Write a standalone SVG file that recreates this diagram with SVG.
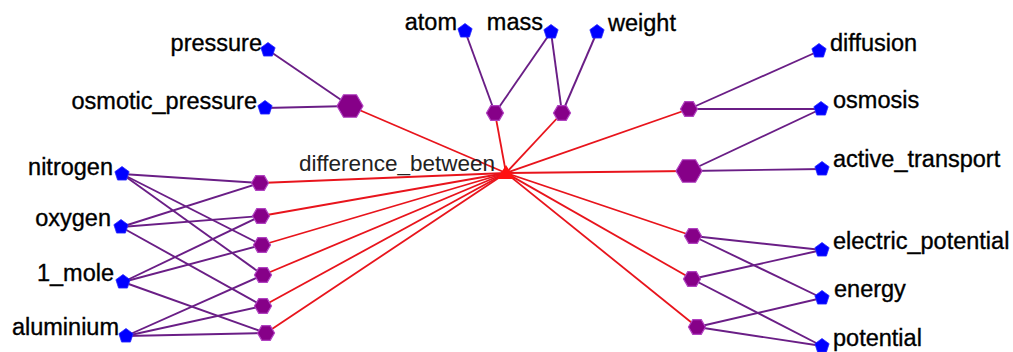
<svg xmlns="http://www.w3.org/2000/svg" xmlns:xlink="http://www.w3.org/1999/xlink" width="1013" height="352" viewBox="0 0 1013 352">
<style>
.pe{stroke:#6a1e86;stroke-width:1.9;fill:none}
.re{stroke:#e8141c;stroke-width:1.8;fill:none}
.bn{fill:#0000ff;stroke:#2a2aff;stroke-width:0.8}
.hx{fill:#860088;stroke:#b040c0;stroke-width:1.2}
.lb{font-family:"Liberation Sans",Arial,sans-serif;font-size:23.5px;fill:#000;stroke:#000;stroke-width:0.35}
.hub{font-family:"Liberation Sans",Arial,sans-serif;font-size:22.5px;fill:#222}
</style>
<defs>
<polygon id="pent" points="0,-7.5 7.13,-2.32 4.41,6.07 -4.41,6.07 -7.13,-2.32"/>
<polygon id="hs" points="8.5,0 4.25,7.36 -4.25,7.36 -8.5,0 -4.25,-7.36 4.25,-7.36"/>
<polygon id="hl" points="13,0 6.5,11.26 -6.5,11.26 -13,0 -6.5,-11.26 6.5,-11.26"/>
</defs>
<rect width="1013" height="352" fill="#ffffff"/>
<g id="connectors">
<line class="re" x1="506" y1="173" x2="350" y2="106"/>
<line class="re" x1="506" y1="173" x2="260" y2="183"/>
<line class="re" x1="506" y1="173" x2="261" y2="216"/>
<line class="re" x1="506" y1="173" x2="262" y2="245"/>
<line class="re" x1="506" y1="173" x2="263" y2="275"/>
<line class="re" x1="506" y1="173" x2="263" y2="306"/>
<line class="re" x1="506" y1="173" x2="266" y2="333"/>
<line class="re" x1="506" y1="173" x2="495" y2="113"/>
<line class="re" x1="506" y1="173" x2="562" y2="113"/>
<line class="re" x1="506" y1="173" x2="689" y2="109"/>
<line class="re" x1="506" y1="173" x2="689" y2="171"/>
<line class="re" x1="506" y1="173" x2="693" y2="236"/>
<line class="re" x1="506" y1="173" x2="692" y2="279"/>
<line class="re" x1="506" y1="173" x2="697" y2="327"/>
<line class="pe" x1="268" y1="50" x2="350" y2="106"/>
<line class="pe" x1="265" y1="108" x2="350" y2="106"/>
<line class="pe" x1="122" y1="174" x2="260" y2="183"/>
<line class="pe" x1="121" y1="227" x2="260" y2="183"/>
<line class="pe" x1="121" y1="227" x2="261" y2="216"/>
<line class="pe" x1="123" y1="282" x2="261" y2="216"/>
<line class="pe" x1="122" y1="174" x2="262" y2="245"/>
<line class="pe" x1="123" y1="282" x2="262" y2="245"/>
<line class="pe" x1="122" y1="174" x2="263" y2="275"/>
<line class="pe" x1="126" y1="336" x2="263" y2="275"/>
<line class="pe" x1="121" y1="227" x2="263" y2="306"/>
<line class="pe" x1="126" y1="336" x2="263" y2="306"/>
<line class="pe" x1="123" y1="282" x2="266" y2="333"/>
<line class="pe" x1="126" y1="336" x2="266" y2="333"/>
<line class="pe" x1="465" y1="31" x2="495" y2="113"/>
<line class="pe" x1="551" y1="32" x2="495" y2="113"/>
<line class="pe" x1="551" y1="32" x2="562" y2="113"/>
<line class="pe" x1="597" y1="32" x2="562" y2="113"/>
<line class="pe" x1="819" y1="51" x2="689" y2="109"/>
<line class="pe" x1="821" y1="109" x2="689" y2="109"/>
<line class="pe" x1="821" y1="109" x2="689" y2="171"/>
<line class="pe" x1="822" y1="169" x2="689" y2="171"/>
<line class="pe" x1="822" y1="250" x2="693" y2="236"/>
<line class="pe" x1="822" y1="298" x2="693" y2="236"/>
<line class="pe" x1="822" y1="250" x2="692" y2="279"/>
<line class="pe" x1="822" y1="346" x2="692" y2="279"/>
<line class="pe" x1="822" y1="298" x2="697" y2="327"/>
<line class="pe" x1="822" y1="346" x2="697" y2="327"/>
</g>
<g id="hub"><polygon points="506,165 515,179 497,179" fill="#ff1010"/><text class="hub" x="495" y="171" text-anchor="end">difference_between</text></g>
<g id="h_osm_press"><use xlink:href="#hl" class="hx" x="350" y="106"/></g>
<g id="h_l1"><use xlink:href="#hs" class="hx" x="260" y="183"/></g>
<g id="h_l2"><use xlink:href="#hs" class="hx" x="261" y="216"/></g>
<g id="h_l3"><use xlink:href="#hs" class="hx" x="262" y="245"/></g>
<g id="h_l4"><use xlink:href="#hs" class="hx" x="263" y="275"/></g>
<g id="h_l5"><use xlink:href="#hs" class="hx" x="263" y="306"/></g>
<g id="h_l6"><use xlink:href="#hs" class="hx" x="266" y="333"/></g>
<g id="h_t1"><use xlink:href="#hs" class="hx" x="495" y="113"/></g>
<g id="h_t2"><use xlink:href="#hs" class="hx" x="562" y="113"/></g>
<g id="h_r1"><use xlink:href="#hs" class="hx" x="689" y="109"/></g>
<g id="h_r2"><use xlink:href="#hl" class="hx" x="689" y="171"/></g>
<g id="h_r3"><use xlink:href="#hs" class="hx" x="693" y="236"/></g>
<g id="h_r4"><use xlink:href="#hs" class="hx" x="692" y="279"/></g>
<g id="h_r5"><use xlink:href="#hs" class="hx" x="697" y="327"/></g>
<g id="pressure"><use xlink:href="#pent" class="bn" x="268" y="50"/><text class="lb" x="262" y="51" text-anchor="end">pressure</text></g>
<g id="osmotic_pressure"><use xlink:href="#pent" class="bn" x="265" y="108"/><text class="lb" x="257" y="109" text-anchor="end">osmotic_pressure</text></g>
<g id="nitrogen"><use xlink:href="#pent" class="bn" x="122" y="174"/><text class="lb" x="113" y="175" text-anchor="end">nitrogen</text></g>
<g id="oxygen"><use xlink:href="#pent" class="bn" x="121" y="227"/><text class="lb" x="111" y="226" text-anchor="end">oxygen</text></g>
<g id="mole"><use xlink:href="#pent" class="bn" x="123" y="282"/><text class="lb" x="114" y="281" text-anchor="end">1_mole</text></g>
<g id="aluminium"><use xlink:href="#pent" class="bn" x="126" y="336"/><text class="lb" x="119" y="335" text-anchor="end">aluminium</text></g>
<g id="atom"><use xlink:href="#pent" class="bn" x="465" y="31"/><text class="lb" x="457" y="30" text-anchor="end">atom</text></g>
<g id="mass"><use xlink:href="#pent" class="bn" x="551" y="32"/><text class="lb" x="543" y="30" text-anchor="end">mass</text></g>
<g id="weight"><use xlink:href="#pent" class="bn" x="597" y="32"/><text class="lb" x="608" y="31">weight</text></g>
<g id="diffusion"><use xlink:href="#pent" class="bn" x="819" y="51"/><text class="lb" x="830" y="51">diffusion</text></g>
<g id="osmosis"><use xlink:href="#pent" class="bn" x="821" y="109"/><text class="lb" x="833" y="108">osmosis</text></g>
<g id="active_transport"><use xlink:href="#pent" class="bn" x="822" y="169"/><text class="lb" x="833" y="167">active_transport</text></g>
<g id="electric_potential"><use xlink:href="#pent" class="bn" x="822" y="250"/><text class="lb" x="833" y="249">electric_potential</text></g>
<g id="energy"><use xlink:href="#pent" class="bn" x="822" y="298"/><text class="lb" x="834" y="297">energy</text></g>
<g id="potential"><use xlink:href="#pent" class="bn" x="822" y="346"/><text class="lb" x="833" y="346">potential</text></g>
</svg>
